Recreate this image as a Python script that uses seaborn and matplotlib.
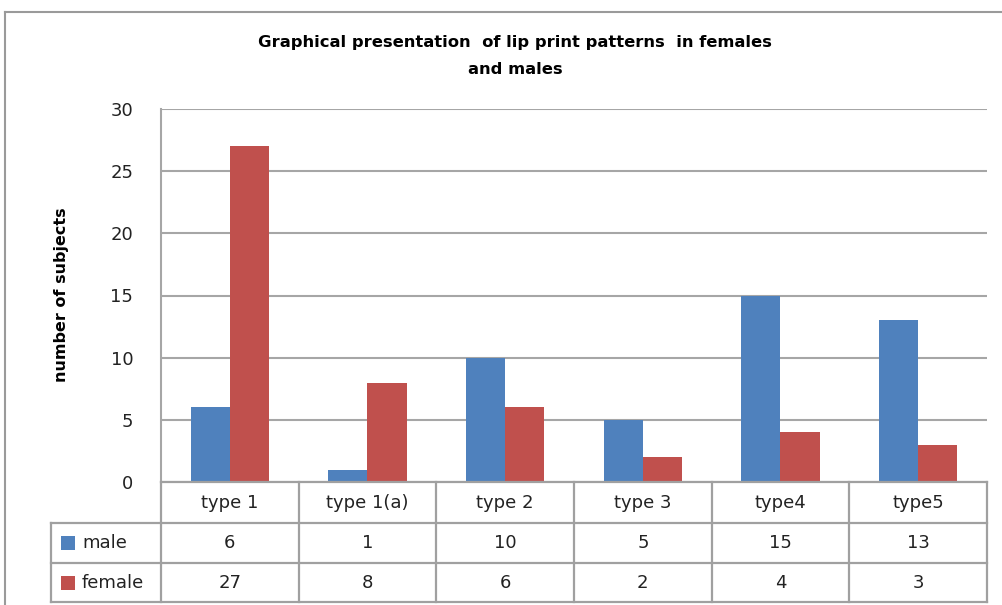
import seaborn as sns
import matplotlib.pyplot as plt
import pandas as pd
from matplotlib.lines import Line2D
from matplotlib.patches import Rectangle

types = ["type 1", "type 1(a)", "type 2", "type 3", "type4", "type5"]
male = [6, 1, 10, 5, 15, 13]
female = [27, 8, 6, 2, 4, 3]
series = ["male", "female"]
colors = ["#4F81BD", "#C0504D"]

df = pd.DataFrame({"type": types * 2,
                   "sex": ["male"] * len(types) + ["female"] * len(types),
                   "count": male + female})

W, H = 1003, 605
fig = plt.figure(figsize=(W / 100, H / 100), dpi=100)

def fx(x): return x / W
def fy(y): return 1 - y / H

L, R, T, B = 161, 987, 109, 482
ax = fig.add_axes([fx(L), fy(B), fx(R - L), (B - T) / H])
sns.barplot(data=df, x="type", y="count", hue="sex", order=types, hue_order=series,
            palette=colors, width=0.567, gap=0, saturation=1, errorbar=None,
            edgecolor="none", legend=False, ax=ax)
ax.set_ylim(0, 30)
ax.set_xlim(-0.5, len(types) - 0.5)
ax.set_yticks(range(0, 31, 5))
ax.set_xticks([])
ax.set_xlabel("")
ax.set_ylabel("")
ax.yaxis.grid(True, color="#A6A6A6", lw=1.5)
ax.set_axisbelow(True)
for s in ["top", "right", "bottom"]:
    ax.spines[s].set_visible(False)
ax.spines["left"].set_color("#A6A6A6")
ax.spines["left"].set_linewidth(1.5)
ax.tick_params(axis="y", length=0, pad=20, labelsize=13, labelcolor="#222222")
for t in ax.get_yticklabels():
    t.set_family("DejaVu Sans")

fig.text(fx(62), fy(295), "number of subjects", rotation=90, ha="center", va="center",
         fontsize=11.5, fontweight="bold", family=["Liberation Sans Narrow", "DejaVu Sans"])
fig.text(fx(515), fy(43), "Graphical presentation  of lip print patterns  in females",
         ha="center", va="center", fontsize=11.8, fontweight="bold",
         family=["Liberation Sans Narrow", "DejaVu Sans"])
fig.text(fx(515), fy(69), "and males", ha="center", va="center", fontsize=11.8,
         fontweight="bold", family=["Liberation Sans Narrow", "DejaVu Sans"])

# data table below the axes
lc, lw = "#A0A0A0", 1.6
rows = [482, 523, 563, 602]
cols = [L + i * (R - L) / len(types) for i in range(len(types) + 1)]
def hline(y, x0, x1):
    fig.add_artist(Line2D([fx(x0), fx(x1)], [fy(y), fy(y)], color=lc, lw=lw))
def vline(x, y0, y1):
    fig.add_artist(Line2D([fx(x), fx(x)], [fy(y0), fy(y1)], color=lc, lw=lw))
hline(rows[0], L, R)
for y in rows[1:]:
    hline(y, 51, R)
vline(51, rows[1], rows[3])
for x in cols:
    vline(x, rows[0], rows[3])

tk = dict(ha="center", va="center", fontsize=13, color="#222222", family="DejaVu Sans")
for i, t in enumerate(types):
    cx = (cols[i] + cols[i + 1]) / 2
    fig.text(fx(cx), fy((rows[0] + rows[1]) / 2), t, **tk)
    fig.text(fx(cx), fy((rows[1] + rows[2]) / 2), str(male[i]), **tk)
    fig.text(fx(cx), fy((rows[2] + rows[3]) / 2), str(female[i]), **tk)
for j, (name, c) in enumerate(zip(series, colors)):
    cy = (rows[1 + j] + rows[2 + j]) / 2
    fig.add_artist(Rectangle((fx(61), fy(cy + 7)), 14 / W, 14 / H, color=c, lw=0))
    fig.text(fx(82), fy(cy), name, ha="left", va="center", fontsize=13,
             color="#222222", family="DejaVu Sans")

# outer chart border
fig.add_artist(Line2D([fx(5), fx(5)], [fy(12), 0], color="#9A9A9A", lw=1.5))
fig.add_artist(Line2D([fx(5), 1], [fy(12), fy(12)], color="#9A9A9A", lw=1.5))

fig.savefig("out.png", dpi=100)
